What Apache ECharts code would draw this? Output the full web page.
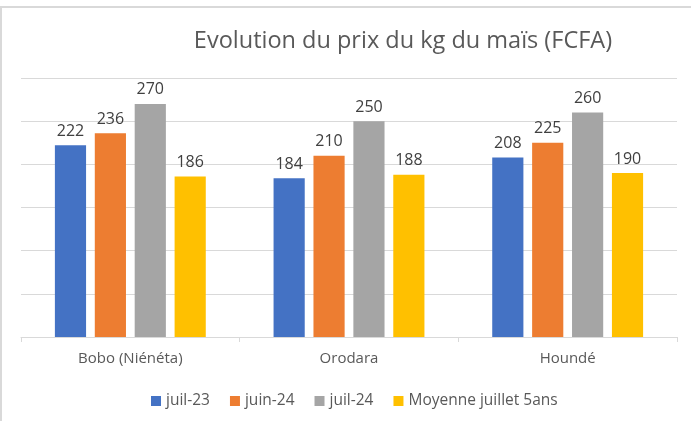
<!DOCTYPE html>
<html>
<head>
<meta charset="utf-8">
<script src="https://cdn.jsdelivr.net/npm/echarts@6/dist/echarts.min.js"></script>
<style>
  html, body { margin: 0; padding: 0; background: #fff; }
  #chart { width: 691px; height: 421px; }
</style>
</head>
<body>
<div id="chart"></div>
<script>
const categories = ['Bobo (Niénéta)', 'Orodara', 'Houndé']
const seriesNames = ['juil-23', 'juin-24', 'juil-24', 'Moyenne juillet 5ans']
const juil23 = [222, 184, 208]
const juin24 = [236, 210, 225]
const juil24 = [270, 250, 260]
const moyenne5ans = [186, 188, 190]
const colors = ['#4472C4', '#ED7D31', '#A5A5A5', '#FFC000']

const font = 'Open Sans'
const chart = echarts.init(document.getElementById('chart'))

const mkSeries = (name, data, color) => ({
  name,
  type: 'bar',
  data,
  barGap: '28%',
  barCategoryGap: '31%',
  itemStyle: { color },
  label: {
    show: true,
    position: 'top',
    distance: 6,
    color: '#404040',
    fontFamily: font,
    fontSize: 16
  }
})

chart.setOption({
  animation: false,
  textStyle: { fontFamily: font },
  title: {
    text: 'Evolution du prix du kg du maïs (FCFA)',
    left: 398,
    textAlign: 'center',
    top: 24,
    textStyle: { color: '#595959', fontFamily: font, fontSize: 23.5, fontWeight: 'normal' }
  },
  legend: {
    data: seriesNames,
    left: 146,
    top: 388,
    icon: 'rect',
    itemWidth: 10,
    itemHeight: 10,
    itemGap: 20,
    textStyle: { color: '#595959', fontFamily: font, fontSize: 15.5 }
  },
  grid: { left: 21, right: 14, top: 78, bottom: 84 },
  xAxis: {
    type: 'category',
    data: categories,
    axisLine: { lineStyle: { color: '#D9D9D9', width: 1 } },
    axisTick: { show: true, length: 5, lineStyle: { color: '#D9D9D9' } },
    axisLabel: { color: '#595959', fontFamily: font, fontSize: 15, margin: 14 }
  },
  yAxis: {
    type: 'value',
    min: 0,
    max: 300,
    interval: 50,
    axisLabel: { show: false },
    axisLine: { show: false },
    axisTick: { show: false },
    splitLine: { lineStyle: { color: '#D9D9D9', width: 1 } }
  },
  graphic: [{
    type: 'rect',
    shape: { x: 1, y: 7, width: 800, height: 500 },
    style: { fill: 'none', stroke: '#D9D9D9', lineWidth: 2 },
    silent: true
  }],
  series: [
    mkSeries(seriesNames[0], juil23, colors[0]),
    mkSeries(seriesNames[1], juin24, colors[1]),
    mkSeries(seriesNames[2], juil24, colors[2]),
    mkSeries(seriesNames[3], moyenne5ans, colors[3])
  ]
})
</script>
</body>
</html>
